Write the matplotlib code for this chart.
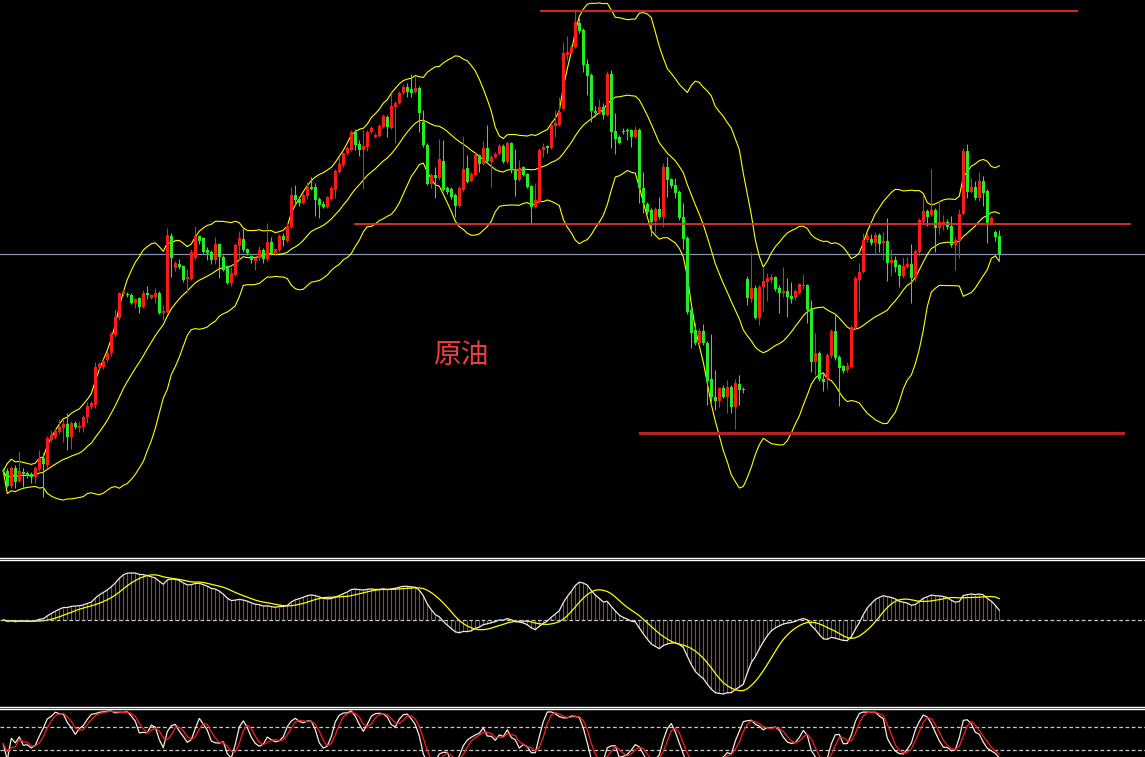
import numpy as np
import pandas as pd
import matplotlib
matplotlib.use("Agg")
import matplotlib.pyplot as plt

# ---------------- data (price units) ----------------
opens = [52.95, 52.9, 51.4, 53.2, 51.9, 52.8, 52.7, 52.6, 52.3, 53.1,
         54.2, 53.5, 56.0, 56.3, 56.8, 57.2, 57.6, 56.3, 57.7, 57.2,
         57.3, 58.3, 59.3, 59.5, 63.3, 63.3, 64.0, 64.7, 66.5, 68.2,
         70.6, 70.6, 70.5, 69.7, 70.2, 69.3, 70.7, 70.2, 70.3, 70.7,
         68.7, 68.8, 76.4, 73.2, 73.6, 73.4, 72.1, 72.1, 74.2, 76.4,
         76.2, 75.0, 74.8, 74.0, 75.6, 74.3, 73.4, 71.7, 72.5, 75.4,
         76.1, 75.1, 74.4, 73.9, 74.2, 75.0, 74.1, 75.8, 74.7, 75.0,
         76.4, 75.9, 77.3, 80.5, 80.1, 79.7, 80.4, 81.3, 81.3, 80.1,
         79.6, 79.3, 80.1, 81.0, 82.8, 83.5, 84.7, 85.0, 86.8, 85.6,
         85.0, 85.3, 86.8, 86.3, 86.4, 87.3, 88.3, 87.2, 89.3, 89.7,
         90.7, 91.3, 91.1, 90.8, 91.2, 87.8, 85.5, 81.6, 82.5, 82.2,
         83.9, 81.2, 81.1, 80.5, 79.4, 81.0, 83.2, 81.9, 82.5, 84.5,
         83.6, 85.2, 83.8, 84.3, 84.6, 85.4, 83.8, 85.7, 82.9, 82.0,
         83.3, 82.6, 81.4, 79.3, 79.8, 85.0, 85.4, 85.2, 87.4, 87.5,
         89.1, 94.5, 94.7, 95.3, 97.7, 97.0, 93.6, 92.5, 88.9, 88.7,
         89.3, 88.5, 92.6, 86.9, 86.3, 86.9, 87.0, 87.0, 86.3, 87.0,
         81.2, 79.6, 79.0, 77.9, 79.1, 78.3, 83.3, 82.1, 81.5, 80.8,
         78.3, 76.2, 69.0, 67.0, 65.7, 66.9, 65.7, 62.1, 60.3, 59.9,
         61.2, 60.3, 61.3, 59.3, 61.6, 61.1, 72.1, 70.1, 71.2, 68.2,
         71.3, 71.8, 72.0, 72.3, 71.2, 70.7, 70.9, 70.4, 70.2, 70.7,
         71.4, 71.5, 69.2, 63.8, 64.7, 62.1, 62.1, 64.4, 66.9, 64.3,
         63.4, 63.0, 63.3, 67.2, 72.0, 72.8, 76.0, 76.1, 75.7, 76.5,
         75.7, 75.9, 73.7, 74.0, 73.5, 72.4, 73.3, 73.6, 72.2, 74.8,
         77.8, 78.9, 78.5, 79.0, 77.2, 77.7, 77.8, 77.4, 75.5, 76.0,
         78.6, 84.9, 80.8, 81.3, 80.2, 81.9, 80.9, 77.7, 76.8, 76.4]

highs = [53.2, 53.2, 53.4, 53.5, 54.9, 53.2, 52.9, 52.8, 53.4, 55.0,
         54.7, 56.4, 57.0, 57.2, 58.1, 58.1, 58.7, 57.9, 57.9, 57.9,
         58.5, 59.8, 59.9, 63.8, 63.8, 64.1, 64.9, 66.8, 69.1, 70.8,
         71.1, 70.8, 70.7, 70.2, 70.3, 71.0, 71.4, 70.6, 71.2, 70.9,
         69.5, 77.2, 76.7, 73.9, 74.1, 73.5, 73.1, 75.1, 77.4, 76.5,
         76.3, 75.3, 75.0, 76.3, 75.7, 74.5, 73.5, 73.3, 75.7, 76.9,
         77.2, 75.2, 74.5, 74.3, 75.4, 75.2, 77.7, 76.3, 75.2, 76.6,
         76.7, 77.7, 81.3, 81.5, 80.2, 80.7, 81.8, 82.3, 81.7, 80.3,
         79.9, 80.4, 81.4, 83.1, 84.3, 84.8, 85.4, 87.0, 87.1, 86.0,
         87.0, 87.0, 87.4, 86.7, 87.6, 88.6, 88.5, 90.7, 89.9, 90.9,
         91.6, 91.7, 92.6, 92.4, 91.4, 89.0, 85.7, 82.7, 83.3, 86.1,
         86.0, 81.4, 81.3, 80.7, 81.4, 86.4, 84.5, 82.8, 84.7, 84.6,
         85.9, 87.5, 84.5, 84.8, 85.6, 85.6, 85.9, 85.8, 85.1, 84.0,
         83.4, 82.7, 81.5, 81.7, 85.2, 85.7, 85.5, 87.7, 89.0, 90.3,
         95.8, 96.4, 95.5, 99.1, 98.2, 97.2, 94.1, 92.7, 89.4, 90.1,
         89.7, 92.9, 93.0, 88.7, 86.5, 87.2, 87.2, 87.1, 87.4, 87.2,
         82.8, 79.8, 79.2, 79.3, 80.3, 83.7, 84.3, 82.2, 82.2, 81.0,
         79.7, 76.4, 69.4, 67.7, 67.2, 67.6, 65.9, 66.6, 63.0, 61.3,
         61.5, 62.0, 61.5, 62.1, 62.5, 61.3, 72.4, 74.8, 71.5, 71.5,
         73.3, 72.7, 72.6, 72.4, 71.5, 73.3, 72.2, 71.8, 71.1, 71.7,
         72.6, 71.6, 70.0, 66.7, 64.9, 62.7, 64.7, 67.1, 68.6, 64.5,
         63.5, 63.8, 67.5, 72.4, 73.7, 76.7, 76.7, 76.6, 76.8, 76.7,
         76.8, 78.2, 75.1, 74.4, 73.6, 74.3, 74.3, 75.6, 75.1, 78.2,
         80.5, 79.1, 83.1, 79.2, 80.0, 78.5, 78.1, 78.4, 76.3, 79.1,
         85.2, 85.6, 82.2, 81.9, 82.8, 82.4, 81.1, 78.4, 77.0, 77.0]

lows = [52.7, 51.3, 51.2, 51.2, 51.8, 51.3, 52.2, 51.7, 51.7, 52.9,
        50.3, 53.2, 55.8, 56.1, 56.6, 55.8, 55.0, 55.1, 57.1, 56.8,
        56.8, 57.7, 59.1, 59.2, 63.1, 63.1, 63.8, 64.4, 66.3, 68.0,
        70.4, 70.3, 69.6, 69.2, 68.7, 69.2, 70.1, 70.1, 69.7, 68.6,
        68.0, 68.7, 72.3, 72.9, 73.1, 71.8, 70.7, 72.0, 74.0, 75.6,
        74.7, 74.0, 73.6, 73.6, 72.2, 72.9, 71.6, 71.4, 72.4, 74.0,
        74.8, 74.5, 73.7, 73.0, 74.0, 73.7, 73.9, 74.5, 74.5, 74.8,
        75.4, 75.8, 77.2, 79.5, 79.4, 79.6, 80.1, 81.0, 78.4, 78.2,
        79.2, 79.2, 79.9, 80.2, 82.7, 83.3, 84.5, 84.9, 85.0, 84.4,
        81.1, 84.9, 86.7, 86.2, 86.3, 87.2, 86.3, 87.1, 85.7, 89.6,
        90.6, 90.3, 90.3, 90.7, 86.8, 85.3, 81.5, 81.2, 80.2, 82.0,
        80.9, 80.6, 80.1, 78.3, 79.3, 80.9, 81.7, 81.8, 82.4, 82.8,
        83.5, 83.7, 81.3, 84.2, 84.5, 83.7, 83.7, 82.7, 80.4, 81.9,
        82.4, 81.2, 77.7, 79.2, 79.7, 84.3, 84.7, 85.1, 86.3, 87.4,
        89.0, 94.0, 94.6, 95.2, 96.7, 92.8, 90.5, 87.8, 88.3, 88.6,
        88.1, 88.4, 85.2, 84.6, 85.6, 86.6, 86.0, 85.3, 86.2, 79.7,
        78.7, 78.6, 76.4, 76.7, 78.1, 77.3, 80.3, 81.2, 80.2, 78.0,
        75.1, 68.6, 65.2, 65.5, 65.5, 65.5, 59.5, 59.5, 59.0, 59.3,
        60.2, 58.7, 58.7, 57.1, 59.5, 60.7, 69.5, 69.8, 68.1, 67.5,
        68.9, 69.9, 71.7, 70.9, 68.7, 70.3, 68.3, 69.7, 70.0, 70.6,
        71.1, 67.7, 62.8, 62.5, 61.9, 60.9, 61.1, 64.2, 64.0, 59.4,
        62.7, 62.8, 63.2, 67.0, 68.9, 72.7, 75.8, 75.5, 74.5, 74.8,
        74.0, 71.9, 72.4, 72.8, 71.3, 72.2, 73.2, 69.7, 71.9, 74.4,
        77.7, 77.4, 78.4, 74.8, 76.6, 77.0, 77.1, 75.3, 73.0, 74.2,
        78.5, 80.2, 80.7, 80.0, 79.9, 79.4, 75.7, 77.5, 75.9, 73.9]

closes = [52.9, 51.4, 53.2, 51.8, 52.9, 52.6, 52.4, 52.3, 53.2, 54.2,
          53.6, 56.2, 56.5, 56.9, 57.3, 57.6, 56.3, 57.7, 57.3, 57.4,
          58.3, 59.4, 59.7, 63.3, 63.6, 63.9, 64.7, 66.6, 68.3, 70.7,
          70.9, 70.5, 69.7, 70.1, 69.3, 70.7, 70.5, 70.5, 70.7, 68.7,
          68.9, 76.5, 74.2, 73.7, 73.3, 72.0, 72.3, 74.8, 76.4, 75.9,
          74.8, 74.7, 74.0, 75.6, 74.3, 73.0, 71.7, 72.7, 75.5, 76.2,
          75.0, 74.7, 74.0, 74.2, 75.0, 74.1, 75.8, 74.7, 75.1, 76.4,
          76.0, 77.4, 80.5, 80.0, 79.7, 80.5, 81.3, 81.1, 80.0, 79.5,
          79.3, 80.3, 81.2, 82.9, 83.6, 84.7, 85.2, 86.8, 85.5, 85.0,
          85.4, 86.8, 87.2, 86.5, 87.4, 88.4, 87.3, 89.4, 89.7, 90.7,
          91.3, 90.8, 90.7, 91.2, 88.7, 85.5, 81.6, 82.5, 82.2, 84.1,
          81.0, 80.8, 80.3, 79.4, 81.2, 83.1, 81.8, 82.6, 84.5, 83.6,
          85.2, 83.9, 84.3, 84.6, 85.4, 83.8, 85.7, 83.0, 82.0, 83.2,
          82.5, 81.3, 79.3, 80.0, 85.0, 85.3, 85.2, 87.5, 87.7, 88.8,
          94.7, 94.8, 95.3, 97.8, 96.9, 93.5, 92.4, 88.9, 88.7, 89.3,
          88.5, 92.6, 86.8, 86.1, 85.7, 86.8, 86.9, 86.3, 87.0, 81.2,
          79.7, 78.8, 77.8, 79.1, 78.3, 83.3, 82.0, 81.4, 80.7, 78.2,
          76.1, 68.8, 66.7, 65.7, 66.9, 65.7, 61.9, 60.3, 59.9, 61.2,
          60.3, 61.3, 59.3, 61.7, 61.0, 61.05, 70.2, 71.2, 68.2, 71.3,
          71.9, 72.2, 72.3, 71.1, 70.7, 70.9, 70.3, 70.1, 70.9, 71.6,
          71.5, 69.0, 63.8, 64.7, 62.1, 61.8, 64.5, 66.9, 64.2, 63.2,
          62.9, 63.4, 67.3, 72.2, 72.8, 76.0, 76.4, 75.7, 76.5, 75.6,
          75.9, 73.7, 74.0, 73.3, 72.4, 73.4, 73.6, 72.2, 74.9, 78.0,
          78.9, 78.3, 79.0, 77.2, 77.8, 77.8, 77.3, 75.5, 76.0, 78.6,
          84.9, 80.8, 81.3, 80.2, 81.9, 80.7, 77.7, 78.2, 76.3, 74.6]

# support / resistance lines: level, start bar, end bar
sr_levels = [98.9, 77.6, 56.7]
sr_start = [134.4, 87.9, 159.2]
sr_end = [268.4, 281.7, 279.9]
label_text = "原油"
stoch_levels = [70, 30]

# ---------------- indicators ----------------
o = np.array(opens); h = np.array(highs); l = np.array(lows); c = np.array(closes)
n = len(c)
x = np.arange(n)
cs = pd.Series(c)
mid = cs.rolling(20, min_periods=1).mean()
sd = cs.rolling(20, min_periods=1).std(ddof=0)
upper = mid + 2 * sd
lower = mid - 2 * sd

ema12 = cs.ewm(span=12, adjust=False).mean()
ema26 = cs.ewm(span=26, adjust=False).mean()
macd = ema12 - ema26
signal = macd.rolling(9, min_periods=1).mean()

hs = pd.Series(h); ls = pd.Series(l)
ll = ls.rolling(5, min_periods=1).min()
hh = hs.rolling(5, min_periods=1).max()
num = (cs - ll).rolling(3, min_periods=1).sum()
den = (hh - ll).rolling(3, min_periods=1).sum()
stk = 100 * num / den.replace(0, np.nan)
stk = stk.fillna(50)
std_ = stk.rolling(3, min_periods=1).mean()

# ---------------- figure ----------------
W, H = 1145, 757
fig = plt.figure(figsize=(W / 100, H / 100), dpi=100, facecolor="black")

def rect(top_px, bot_px):
    return [0, (H - bot_px) / H, 1, (bot_px - top_px) / H]

xlim = (-3.3 / 4, (W - 3.3) / 4)

ax = fig.add_axes(rect(0, 558))
ax2 = fig.add_axes(rect(560, 707.3))
ax3 = fig.add_axes(rect(709.3, 767.3))
for a in (ax, ax2, ax3):
    a.set_facecolor("black")
    a.set_xlim(*xlim)
    a.set_xticks([]); a.set_yticks([])
    for s in a.spines.values():
        s.set_visible(False)
ax.spines["bottom"].set_visible(True)
ax.spines["bottom"].set_color("white")
ax.spines["bottom"].set_linewidth(1)
for s in ("top", "bottom"):
    ax2.spines[s].set_visible(True); ax2.spines[s].set_color("white"); ax2.spines[s].set_linewidth(1)
ax3.spines["top"].set_visible(True); ax3.spines["top"].set_color("white"); ax3.spines["top"].set_linewidth(1)

# main panel
ax.set_ylim(44.2, 100)
up = c > o
red = "#ff1a1a"
green = "#22ee22"
cols = np.where(up, red, green)
ax.vlines(x, l, h, colors=cols, linewidth=0.75, zorder=3)
body_b = np.minimum(o, c)
body_h = np.maximum(np.abs(c - o), 0.09)
ax.bar(x, body_h, bottom=body_b, width=0.75, color=cols, linewidth=0, zorder=4)

ax.plot(x, upper, color="#ffff00", lw=0.8, zorder=2)
ax.plot(x, mid, color="#ffff00", lw=0.8, zorder=2)
ax.plot(x, lower, color="#ffff00", lw=0.8, zorder=2)

ax.axhline(c[-1], color="#8493ab", lw=0.9, zorder=1)
sr_colors = ["#c82828", "#e03232", "#b82424"]
sr_lw = [1.6, 1.3, 2.2]
for lev, s0, s1, col, lw in zip(sr_levels, sr_start, sr_end, sr_colors, sr_lw):
    ax.plot([s0, s1], [lev, lev], color=col, lw=lw, zorder=5)

ax.text(114.4, 64.5, label_text, color="#f23c3c", fontsize=20,
        family=["Noto Sans CJK SC", "DejaVu Sans"], ha="center", va="center", zorder=6)

# MACD panel
M = max(macd.max(), signal.max())
m = min(macd.min(), signal.min())
k = (694 - 573) / (M - m)
ax2.set_ylim(m - (707.3 - 694) / k, M + (573 - 560) / k)
ax2.vlines(x, 0, macd, colors="#ff1a1a", linewidth=0.75, zorder=2)
ax2.plot(x, macd, color="#f4ecdc", lw=0.9, zorder=3)
ax2.plot(x, signal, color="#ffff00", lw=0.9, zorder=4)
ax2.axhline(0, color="#c8c8c8", lw=0.9, ls=(0, (3, 2)), zorder=5)

# Stochastic panel
ax3.set_ylim(0, 100)
for lv in stoch_levels:
    ax3.axhline(lv, color="#c8c8c8", lw=0.9, ls=(0, (3, 2)), zorder=1)
ax3.plot(x, stk, color="#f4ecdc", lw=0.9, zorder=3)
ax3.plot(x, std_, color="#ff1a1a", lw=0.9, zorder=4)

fig.savefig("out.png", dpi=100, facecolor="black")
